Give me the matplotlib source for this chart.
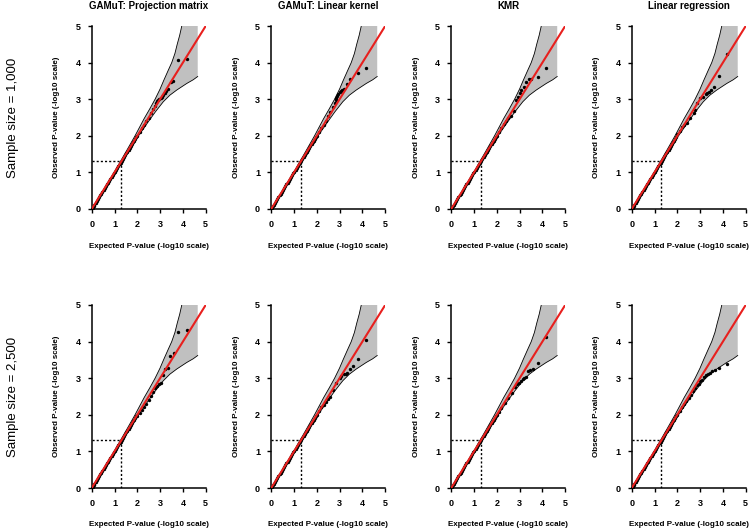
import matplotlib
matplotlib.use("Agg")
import matplotlib.pyplot as plt

plt.rcParams['font.family'] = ['Liberation Sans', 'DejaVu Sans']

# Panel titles and row labels
titles = ['GAMuT: Projection matrix', 'GAMuT: Linear kernel', 'KMR', 'Linear regression']
row_labels = ['Sample size = 1,000', 'Sample size = 2,500']

# 99% confidence band, same for every panel
band_upper_x = [0.0, 1.0, 1.5, 1.9, 2.3, 2.55, 2.78, 3.0, 3.15, 3.35, 3.51, 3.65, 3.75, 3.86, 3.95]
band_upper_y = [0.0, 1.02, 1.56, 2.0, 2.47, 2.74, 3.0, 3.28, 3.5, 3.78, 4.0, 4.25, 4.5, 4.75, 5.0]
band_lower_x = [0.0, 1.0, 1.5, 2.0, 2.5, 2.8, 3.14, 3.43, 3.73, 4.17, 4.45, 4.65]
band_lower_y = [0.0, 0.99, 1.48, 1.95, 2.4, 2.66, 2.93, 3.11, 3.25, 3.43, 3.53, 3.62]

# points that sit on the diagonal in every panel
diag_exp = [0.01, 0.04, 0.08, 0.12, 0.17, 0.22, 0.27, 0.32, 0.37, 0.42, 0.47, 0.52,
            0.57, 0.62, 0.67, 0.72, 0.77, 0.82, 0.87, 0.92, 0.97, 1.02, 1.07, 1.12,
            1.17, 1.22, 1.27, 1.32, 1.37, 1.42, 1.47, 1.52, 1.57, 1.62, 1.67, 1.72,
            1.77, 1.82, 1.87, 1.92, 1.96]
diag_obs = [0.01, 0.04, 0.08, 0.12, 0.17, 0.22, 0.27, 0.32, 0.37, 0.42, 0.47, 0.52,
            0.57, 0.62, 0.67, 0.72, 0.77, 0.82, 0.87, 0.92, 0.97, 1.02, 1.07, 1.12,
            1.17, 1.22, 1.27, 1.32, 1.37, 1.42, 1.47, 1.52, 1.57, 1.62, 1.67, 1.72,
            1.77, 1.82, 1.87, 1.92, 1.96]

# tails, sample size 1,000
pm1_exp = [2.0, 2.1, 2.2, 2.3, 2.4, 2.5, 2.6, 2.7, 2.78, 2.84, 2.88, 2.92, 2.97, 3.02,
           3.07, 3.14, 3.20, 3.26, 3.33, 3.46, 3.55, 3.77, 4.17]
pm1_obs = [2.0, 2.1, 2.2, 2.3, 2.4, 2.5, 2.61, 2.72, 2.82, 2.90, 2.95, 2.97, 3.00, 3.03,
           3.05, 3.12, 3.16, 3.22, 3.27, 3.48, 3.50, 4.06, 4.09]
lk1_exp = [2.0, 2.1, 2.2, 2.3, 2.4, 2.5, 2.6, 2.7, 2.78, 2.83, 2.86, 2.90, 2.95, 3.00,
           3.06, 3.12, 3.18, 3.34, 3.46, 3.79, 4.17]
lk1_obs = [2.0, 2.1, 2.2, 2.3, 2.41, 2.53, 2.66, 2.80, 2.90, 2.98, 3.03, 3.08, 3.14, 3.19,
           3.22, 3.25, 3.28, 3.41, 3.55, 3.71, 3.84]
km1_exp = [2.0, 2.1, 2.2, 2.3, 2.4, 2.5, 2.62, 2.75, 2.86, 2.94, 3.01, 3.08, 3.18, 3.27,
           3.40, 3.52, 3.81, 4.17]
km1_obs = [2.0, 2.1, 2.21, 2.31, 2.4, 2.48, 2.55, 2.68, 2.98, 3.07, 3.16, 3.25, 3.32, 3.46,
           3.55, 3.55, 3.60, 3.86]
lr1_exp = [2.0, 2.1, 2.2, 2.3, 2.43, 2.57, 2.72, 2.79, 2.87, 3.01, 3.13, 3.24, 3.31, 3.38,
           3.49, 3.63, 3.82, 4.19]
lr1_obs = [2.04, 2.14, 2.23, 2.3, 2.34, 2.48, 2.61, 2.70, 2.89, 3.04, 3.07, 3.14, 3.18, 3.21,
           3.25, 3.34, 3.63, 4.23]

# tails, sample size 2,500
pm2_exp = [2.0, 2.1, 2.2, 2.3, 2.4, 2.5, 2.6, 2.7, 2.79, 2.88, 2.95, 3.03, 3.13, 3.23,
           3.33, 3.45, 3.60, 3.79, 4.18]
pm2_obs = [1.97, 2.04, 2.12, 2.20, 2.30, 2.40, 2.52, 2.62, 2.73, 2.80, 2.84, 2.87, 3.08, 3.25,
           3.28, 3.62, 3.69, 4.27, 4.31]
lk2_exp = [2.0, 2.1, 2.2, 2.3, 2.4, 2.5, 2.57, 2.7, 2.86, 3.01, 3.08, 3.18, 3.26, 3.34,
           3.44, 3.59, 3.79, 4.17]
lk2_obs = [2.0, 2.1, 2.2, 2.28, 2.35, 2.42, 2.50, 2.68, 2.86, 3.01, 3.07, 3.11, 3.11, 3.13,
           3.24, 3.33, 3.52, 4.04]
km2_exp = [2.0, 2.1, 2.2, 2.35, 2.5, 2.65, 2.79, 2.89, 2.98, 3.05, 3.13, 3.18, 3.27, 3.37,
           3.47, 3.59, 3.81, 4.17]
km2_obs = [2.0, 2.09, 2.18, 2.31, 2.45, 2.59, 2.77, 2.84, 2.88, 2.91, 2.97, 3.00, 3.02, 3.21,
           3.22, 3.24, 3.41, 4.13]
lr2_exp = [2.0, 2.1, 2.2, 2.3, 2.4, 2.5, 2.6, 2.7, 2.79, 2.86, 2.94, 2.99, 3.08, 3.16,
           3.26, 3.35, 3.45, 3.52, 3.67, 3.81, 4.17]
lr2_obs = [2.0, 2.1, 2.2, 2.3, 2.38, 2.47, 2.55, 2.64, 2.73, 2.81, 2.84, 2.91, 2.96, 3.02,
           3.08, 3.11, 3.14, 3.19, 3.23, 3.28, 3.40]

panels = [
    [(pm1_exp, pm1_obs), (lk1_exp, lk1_obs), (km1_exp, km1_obs), (lr1_exp, lr1_obs)],
    [(pm2_exp, pm2_obs), (lk2_exp, lk2_obs), (km2_exp, km2_obs), (lr2_exp, lr2_obs)],
]

W, H = 756, 530
col_left = [91.7, 271.2, 451.2, 631.7]
row_top = [26, 305]
aw, ah = 114, 183
red = '#e8201e'

fig = plt.figure(figsize=(W / 100, H / 100), dpi=100)

band_px = band_upper_x + [4.65] + band_lower_x[::-1]
band_py = band_upper_y + [5.0] + band_lower_y[::-1]

for r in range(2):
    top = row_top[r]
    fig.text(13 / W, 1 - (top + ah / 2) / H, row_labels[r], rotation=90,
             ha='center', va='center', fontsize=9.5)
    for c in range(4):
        left = col_left[c]
        ax = fig.add_axes([left / W, 1 - (top + ah) / H, aw / W, ah / H])
        ax.fill(band_px, band_py, color='#c0c0c0', lw=0, zorder=1)
        ax.plot(band_upper_x, band_upper_y, color='black', lw=0.6, zorder=2)
        ax.plot(band_lower_x, band_lower_y, color='black', lw=0.6, zorder=2)
        ax.plot([0, 1.3], [1.3, 1.3], color='black', ls=(0, (1.5, 1.5)), lw=1.0, zorder=2)
        ax.plot([1.3, 1.3], [0, 1.3], color='black', ls=(0, (1.5, 1.5)), lw=1.0, zorder=2)
        ex, ob = panels[r][c]
        ax.scatter(diag_exp + ex, diag_obs + ob, s=6, color='black', lw=0, zorder=3)
        ax.plot([0, 5], [0, 5], color=red, lw=1.5, zorder=4)

        ax.set_xlim(0, 5)
        ax.set_ylim(0, 5)
        ax.set_xticks(range(6))
        ax.set_yticks(range(6))
        for s in ['top', 'right']:
            ax.spines[s].set_visible(False)
        for s in ['left', 'bottom']:
            ax.spines[s].set_linewidth(1.1)
        ax.tick_params(length=3, width=1.0, pad=5, labelsize=6.5)
        for lab in ax.get_xticklabels() + ax.get_yticklabels():
            lab.set_fontweight('bold')

        cx = (left + aw / 2) / W
        if r == 0:
            fig.text(cx, 1 - 6 / H, titles[c], ha='center', va='center',
                     fontsize=7, fontweight='bold')
        fig.text(cx, 1 - (top + ah + 37) / H, 'Expected P-value (-log10 scale)',
                 ha='center', va='center', fontsize=5.8, fontweight='bold')
        fig.text((left - 35) / W, 1 - (top + ah / 2) / H, 'Observed P-value (-log10 scale)',
                 rotation=90, ha='center', va='center', fontsize=5.8, fontweight='bold')

fig.savefig('out.png', dpi=100)
